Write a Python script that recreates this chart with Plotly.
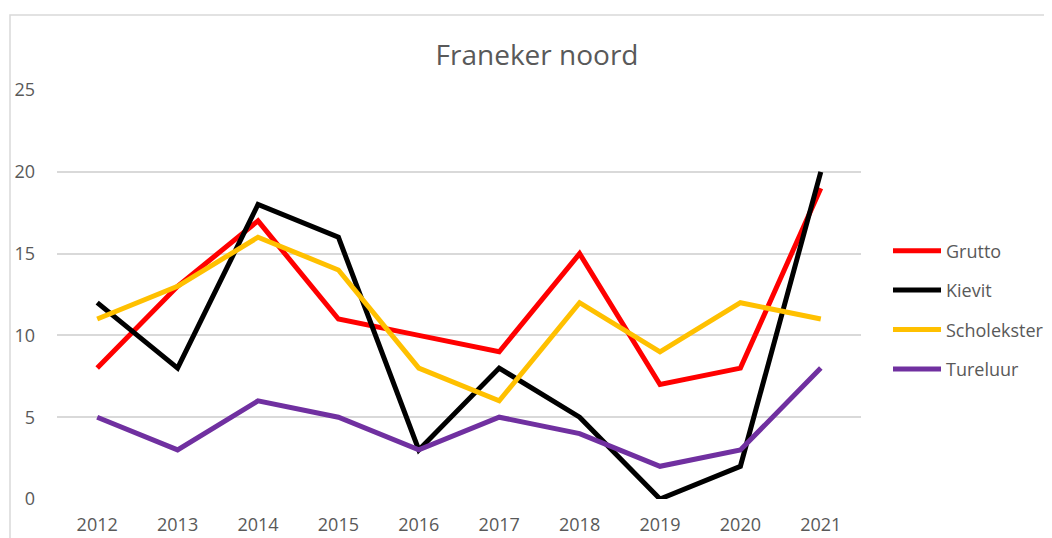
import plotly.graph_objects as go

years = ["2012", "2013", "2014", "2015", "2016", "2017", "2018", "2019", "2020", "2021"]
grutto = [8, 13, 17, 11, 10, 9, 15, 7, 8, 19]
kievit = [12, 8, 18, 16, 3, 8, 5, 0, 2, 20]
scholekster = [11, 13, 16, 14, 8, 6, 12, 9, 12, 11]
tureluur = [5, 3, 6, 5, 3, 5, 4, 2, 3, 8]

series = [
    ("Grutto", grutto, "#FF0000"),
    ("Kievit", kievit, "#000000"),
    ("Scholekster", scholekster, "#FFC000"),
    ("Tureluur", tureluur, "#7030A0"),
]

fig = go.Figure()
for name, vals, col in series:
    fig.add_trace(go.Scatter(x=years, y=vals, name=name, mode="lines",
                             legendgroup=name,
                             line=dict(color=col, width=5)))

font_family = "Open Sans, Liberation Sans, sans-serif"
# page body has an 8px offset in the browser; compensate
OFF = 8
W, H = 1052, 538
L, R, T, B = 57 - OFF, W - 861 + OFF, 90 - OFF, H - 499 + OFF
pw, ph = W - L - R, H - T - B

fig.update_layout(
    width=W, height=H,
    margin=dict(l=L, r=R, t=T, b=B, pad=0, autoexpand=False),
    paper_bgcolor="white", plot_bgcolor="white",
    title=dict(text="Franeker noord", x=(537 - OFF) / W, xanchor="center",
               y=1 - (55 - OFF) / H, yanchor="middle",
               font=dict(family=font_family, size=28, color="#595959")),
    font=dict(family=font_family, size=18, color="#595959"),
    xaxis=dict(type="category", range=[-0.5, 9.5], automargin=False,
               showgrid=False, showline=False, zeroline=False, ticks="",
               tickfont=dict(size=18, color="#595959"), ticklabelstandoff=13),
    yaxis=dict(range=[0, 25], dtick=5, showgrid=True, gridcolor="#D9D9D9",
               gridwidth=1.5, zeroline=False, showline=False, ticks="",
               automargin=False,
               tickfont=dict(size=18, color="#595959"),
               ticklabelposition="outside", ticklabelstandoff=21),
    legend=dict(x=(893 - OFF - 5 - L) / pw, xanchor="left",
                y=(H - B - (310 - OFF)) / ph, yanchor="middle",
                font=dict(size=18, color="#595959"),
                traceorder="grouped", tracegroupgap=13,
                itemwidth=48,
                bgcolor="rgba(0,0,0,0)"),
    showlegend=True,
)

# chart border (Excel chart area frame)
fig.add_shape(type="rect", xref="paper", yref="paper",
              x0=(10 - OFF - L) / pw, x1=(W + 20 - L) / pw,
              y0=(H - B - (H + 20)) / ph, y1=(H - B - (15 - OFF)) / ph,
              line=dict(color="#D9D9D9", width=1.5), layer="below")

fig.write_html("out.html")
